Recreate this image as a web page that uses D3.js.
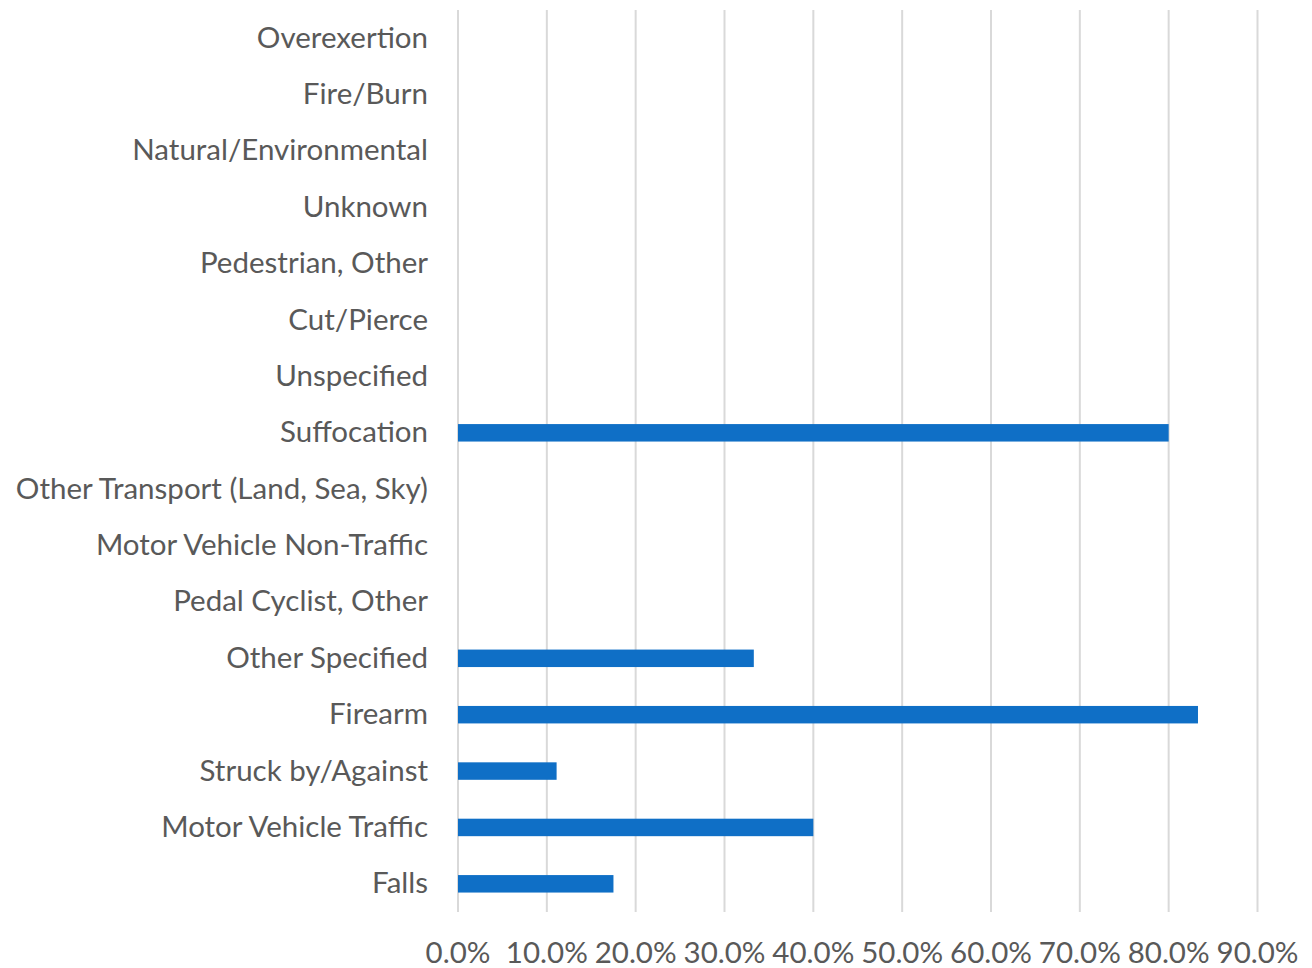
<!DOCTYPE html>
<html>
<head>
<meta charset="utf-8">
<script src="https://cdn.jsdelivr.net/npm/d3@7"></script>
<style>
  html, body { margin: 0; padding: 0; background: #fff; }
  svg { display: block; }
  .lbl { font-family: Lato, "Open Sans", sans-serif; fill: #595959; }
</style>
</head>
<body>
<svg id="chart" width="1312" height="968"></svg>
<script>
// Injury mechanisms, listed from top to bottom
const categories = [
  "Overexertion",
  "Fire/Burn",
  "Natural/Environmental",
  "Unknown",
  "Pedestrian, Other",
  "Cut/Pierce",
  "Unspecified",
  "Suffocation",
  "Other Transport (Land, Sea, Sky)",
  "Motor Vehicle Non-Traffic",
  "Pedal Cyclist, Other",
  "Other Specified",
  "Firearm",
  "Struck by/Against",
  "Motor Vehicle Traffic",
  "Falls"
];
// Share per mechanism (percent); null = no bar
const values = [null, null, null, null, null, null, null, 80.0, null, null, null, 33.3, 83.3, 11.1, 40.0, 17.5];
const xTicks = [0, 10, 20, 30, 40, 50, 60, 70, 80, 90];

const svg = d3.select("#chart");
const plot = { left: 458, right: 1257.5, top: 10, bottom: 912 };

const x = d3.scaleLinear().domain([0, 90]).range([plot.left, plot.right]);
const y = d3.scaleBand().domain(categories).range([plot.top, plot.bottom]).paddingInner(0.69).paddingOuter(0.345);

// vertical gridlines
svg.append("g")
  .selectAll("line")
  .data(xTicks)
  .join("line")
  .attr("x1", d => x(d)).attr("x2", d => x(d))
  .attr("y1", plot.top).attr("y2", plot.bottom)
  .attr("stroke", "#D9D9D9").attr("stroke-width", 2);

// bars
const data = categories.map((c, i) => ({ c, v: values[i] })).filter(d => d.v != null);
svg.append("g")
  .selectAll("rect")
  .data(data)
  .join("rect")
  .attr("x", x(0))
  .attr("y", d => y(d.c))
  .attr("width", d => x(d.v) - x(0))
  .attr("height", y.bandwidth())
  .attr("fill", "#0F6FC6");

// category labels
svg.append("g")
  .selectAll("text")
  .data(categories)
  .join("text")
  .attr("class", "lbl")
  .attr("x", 428)
  .attr("y", d => y(d) + y.bandwidth() / 2 - 2)
  .attr("text-anchor", "end")
  .attr("dominant-baseline", "central")
  .style("font-size", "29.5px")
  .text(d => d);

// x tick labels
svg.append("g")
  .selectAll("text")
  .data(xTicks)
  .join("text")
  .attr("class", "lbl")
  .attr("x", d => x(d))
  .attr("y", 951)
  .attr("text-anchor", "middle")
  .attr("dominant-baseline", "central")
  .style("font-size", "29.5px")
  .text(d => d3.format(".1f")(d) + "%");
</script>
</body>
</html>
